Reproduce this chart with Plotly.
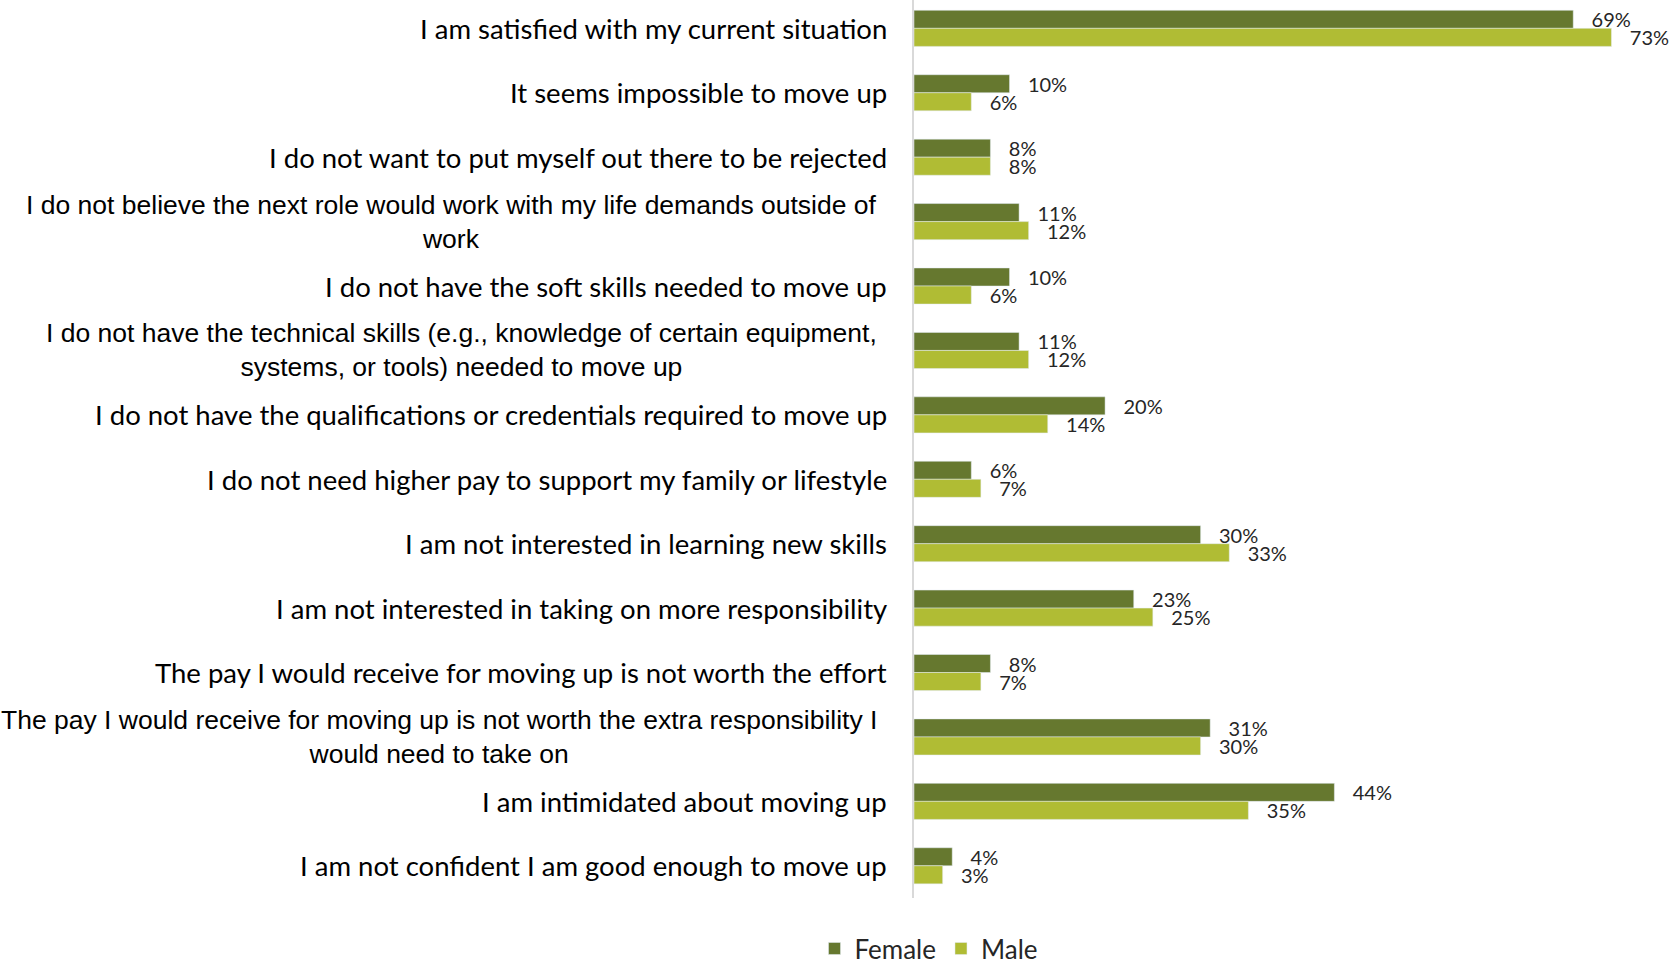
import plotly.graph_objects as go

reasons = [
    "I am satisfied with my current situation",
    "It seems impossible to move up",
    "I do not want to put myself out there to be rejected",
    "I do not believe the next role would work with my life demands outside of<br>work",
    "I do not have the soft skills needed to move up",
    "I do not have the technical skills (e.g., knowledge of certain equipment,<br>systems, or tools) needed to move up",
    "I do not have the qualifications or credentials required to move up",
    "I do not need higher pay to support my family or lifestyle",
    "I am not interested in learning new skills",
    "I am not interested in taking on more responsibility",
    "The pay I would receive for moving up is not worth the effort",
    "The pay I would receive for moving up is not worth the extra responsibility I<br>would need to take on",
    "I am intimidated about moving up",
    "I am not confident I am good enough to move up",
]
female = [69, 10, 8, 11, 10, 11, 20, 6, 30, 23, 8, 31, 44, 4]
male = [73, 6, 8, 12, 6, 12, 14, 7, 33, 25, 7, 30, 35, 3]

label_font = "Lato"
fig = go.Figure()
for name, vals, col in [("Female", female, "#66782f"), ("Male", male, "#b0bc34")]:
    fig.add_trace(go.Bar(y=reasons, x=vals, name=name, orientation="h",
                         marker_color=col,
                         texttemplate="\u00a0\u00a0\u00a0%{x}%", textposition="outside",
                         constraintext="none",
                         textfont=dict(family=label_font, size=20, color="#262626"),
                         cliponaxis=False))

# category labels: two-line ones are centred and set in an Arial-like face
for r in reasons:
    two = "<br>" in r
    fig.add_annotation(x=-0.047 if two else -0.033, y=r, xref="paper", yref="y", text=r,
                       xanchor="right", yanchor="middle", align="center",
                       showarrow=False,
                       font=dict(family="Liberation Sans" if two else label_font,
                                 size=26.5 if two else 27.5, color="#000000"))

fig.update_layout(
    width=1670, height=964,
    margin=dict(l=914, r=6, t=0, b=66),
    barmode="group", bargap=0.44, bargroupgap=0,
    plot_bgcolor="white", paper_bgcolor="white",
    showlegend=True,
    legend=dict(orientation="h", x=0.02, y=0.016, xanchor="center", yanchor="middle",
                yref="container",
                font=dict(family=label_font, size=26, color="#262626"),
                traceorder="normal"),
    xaxis=dict(range=[0, 78.5], visible=False),
    yaxis=dict(categoryorder="array", categoryarray=reasons,
               range=[13.5, -0.44], showticklabels=False,
               showline=True, linecolor="#d9d9d9", linewidth=2,
               showgrid=False, zeroline=False, ticks=""),
)

fig.write_html("out.html", config={"displayModeBar": False},
               post_script="document.body.style.margin = '0';")
